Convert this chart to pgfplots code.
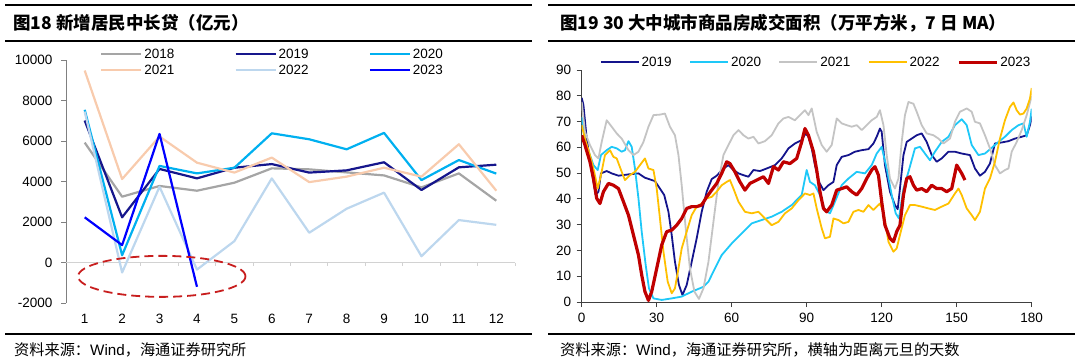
\documentclass[border=0pt]{standalone}
\usepackage{pgfplots}
\pgfplotsset{compat=1.18}
\usepackage{fontspec}
\setmainfont{Liberation Sans}
\newfontfamily\cjk{Noto Sans CJK SC}
\definecolor{a18}{HTML}{A5A5A5}
\definecolor{a19}{HTML}{16168C}
\definecolor{a20}{HTML}{00B0F0}
\definecolor{a21}{HTML}{F8CBAD}
\definecolor{a22}{HTML}{BDD7EE}
\definecolor{a23}{HTML}{0000FF}
\definecolor{b19}{HTML}{14148C}
\definecolor{b20}{HTML}{1EC8F8}
\definecolor{b21}{HTML}{C4C4C4}
\definecolor{b22}{HTML}{FFC000}
\definecolor{b23}{HTML}{C00000}
\definecolor{ell}{HTML}{C81E1E}
\newcommand{\tickfont}{\fontsize{13.5}{15}\selectfont}
\begin{document}
\begin{tikzpicture}[x=1pt,y=1pt]
\path[use as bounding box] (0,0) rectangle (1080,360);
% frame lines
\draw[line width=1.6pt] (5,355) -- (532,355);
\draw[line width=1.2pt] (5,319) -- (532,319);
\draw[line width=1.2pt] (5,26) -- (532,26);
\draw[line width=1.6pt] (548,355) -- (1075,355);
\draw[line width=1.2pt] (548,319) -- (1075,319);
\draw[line width=1.2pt] (548,26) -- (1075,26);
\node[anchor=west, inner sep=0pt] at (13,337) {\cjk\bfseries\fontsize{17.5}{18}\selectfont 图18 新增居民中长贷（亿元）};
\node[anchor=west, inner sep=0pt] at (560,337) {\cjk\bfseries\fontsize{17.5}{18}\selectfont 图19 30 大中城市商品房成交面积（万平方米，7 日 MA）};
\node[anchor=west, inner sep=0pt] at (14,10) {\fontsize{15.2}{16}\selectfont{\cjk 资料来源：}Wind{\cjk ，海通证券研究所}};
\node[anchor=west, inner sep=0pt] at (560,10) {\fontsize{15.2}{16}\selectfont{\cjk 资料来源：}Wind{\cjk ，海通证券研究所，横轴为距离元旦的天数}};

% ---------------- left panel ----------------
\begin{axis}[
  at={(66pt,57pt)}, anchor=south west, scale only axis, width=449pt, height=243pt,
  xmin=0.5, xmax=12.5, ymin=-2000, ymax=10000,
  axis lines=left, axis line style={-}, x axis line style={draw=none},
  y axis line style={draw=gray, line width=1pt},
  xtick={1,...,12}, xtick style={draw=none},
  ytick={-2000,0,2000,4000,6000,8000,10000}, ytick style={draw=gray, line width=1pt},
  scaled y ticks=false,
  tick align=outside, major tick length=5pt,
  ticklabel style={font=\tickfont},
  yticklabel style={xshift=-5pt}, xticklabel style={yshift=-3pt},
  /pgf/number format/assume math mode=true, /pgf/number format/1000 sep={},
  clip=false,
  legend columns=3, legend cell align=left,
  legend style={draw=none, fill=none, font=\tickfont, at={(axis description cs:0.0757,0.991)}, anchor=west,
    inner sep=0pt, row sep=1pt, /tikz/every even column/.append style={column sep=58pt}},
  legend image code/.code={\draw[#1] (0pt,0pt) -- (40pt,0pt);},
  every axis plot/.append style={line width=2.2pt, line join=round},
]
\addplot[gray!35, line width=1.2pt, forget plot] coordinates {(0.5,0)(12.5,0)};
\addplot[gray!35, line width=1pt, ycomb, forget plot] coordinates {(1.5,-150)(2.5,-150)(3.5,-150)(4.5,-150)(5.5,-150)(6.5,-150)(7.5,-150)(8.5,-150)(9.5,-150)(10.5,-150)(11.5,-150)(12.5,-150)};
\addplot[a18] coordinates {(1,5920)(2,3250)(3,3780)(4,3545)(5,3940)(6,4650)(7,4600)(8,4450)(9,4300)(10,3710)(11,4400)(12,3050)};
\addlegendentry{2018}
\addplot[a19] coordinates {(1,7010)(2,2230)(3,4620)(4,4155)(5,4680)(6,4860)(7,4440)(8,4550)(9,4950)(10,3580)(11,4700)(12,4830)};
\addlegendentry{2019}
\addplot[a20] coordinates {(1,7540)(2,360)(3,4770)(4,4400)(5,4680)(6,6380)(7,6085)(8,5590)(9,6400)(10,4070)(11,5060)(12,4390)};
\addlegendentry{2020}
\addplot[a21] coordinates {(1,9480)(2,4120)(3,6220)(4,4930)(5,4440)(6,5180)(7,3970)(8,4240)(9,4680)(10,4240)(11,5840)(12,3545)};
\addlegendentry{2021}
\addplot[a22] coordinates {(1,7450)(2,-495)(3,3740)(4,-350)(5,1055)(6,4155)(7,1470)(8,2655)(9,3450)(10,310)(11,2095)(12,1860)};
\addlegendentry{2022}
\addplot[a23] coordinates {(1,2230)(2,860)(3,6350)(4,-1200)};
\addlegendentry{2023}
\draw[ell, line width=1.8pt, dash pattern=on 9pt off 5pt] (axis cs:3.06,-685) ellipse [x radius=83.7pt, y radius=20.5pt];
\end{axis}

% ---------------- right panel ----------------
\begin{axis}[
  at={(581.7pt,58pt)}, anchor=south west, scale only axis, width=450pt, height=232pt,
  xmin=0, xmax=180, ymin=0, ymax=90,
  axis lines=left, axis line style={-, draw=black!75, line width=1pt},
  xtick={0,30,...,180}, ytick={0,10,...,90},
  tick style={draw=black!75, line width=1pt},
  tick align=outside, major tick length=5pt,
  ticklabel style={font=\tickfont},
  yticklabel style={xshift=-2pt}, xticklabel style={yshift=-3pt},
  /pgf/number format/assume math mode=true, /pgf/number format/1000 sep={},
  legend columns=5, legend cell align=left,
  legend style={draw=none, fill=none, font=\tickfont, at={(axis description cs:0.04,1.033)}, anchor=west,
    inner sep=0pt, /tikz/every even column/.append style={column sep=15.5pt}},
  legend image code/.code={\draw[#1] (0pt,0pt) -- (38pt,0pt);},
  every axis plot/.append style={line width=1.8pt, line join=round},
]
\addplot[b19] coordinates {(0,79.2)(0.7,76.4)(2,63.4)(4,50.5)(5.6,41.5)(6.7,42.8)(7.7,49.9)(10,50.8)(12,49.9)(14.7,49)(18.7,49.5)(22.7,49.9)(25.3,48.2)(29.3,46.9)(31.3,44)(33,41.5)(34.7,35)(36,26)(37.3,15.6)(38.9,6.6)(40.3,2.7)(42,6.6)(44,15.6)(46,24.7)(48,35)(50,42.8)(52,47.7)(54,49)(56.7,51.8)(58.7,53.1)(60.7,51.2)(62.7,49.9)(64.7,49.2)(66.7,48.6)(68.7,51.2)(71.3,50.8)(74,51.8)(77.3,53.1)(80,55.7)(82.7,59.6)(85.3,61.5)(88,62.8)(89.6,65.4)(90.7,64.1)(92,59.6)(93.3,53.1)(94.9,46.6)(96.7,43.4)(98.7,45.3)(100.7,46.6)(102,53.1)(104,56.3)(106.7,57)(109.3,58.3)(112,58.9)(114.7,59.3)(116.7,61.5)(118,64.1)(119.3,67.3)(120,66)(121.3,53.1)(123.3,42.8)(125.3,37.6)(126.4,36)(127.3,44)(128.7,57)(130,62.1)(132,63.4)(134,64.7)(136,65.4)(138,62.1)(140,57)(142,54.4)(144,55.7)(146.7,58.3)(149.3,58.3)(152,57.6)(155.3,57)(157.3,51.8)(159.3,49)(161.3,50.5)(163.3,53.7)(165.3,61.5)(168,61.9)(170.7,62.4)(173.3,63.4)(176,64.1)(178,64.7)(179.3,68.6)(180,72)};
\addlegendentry{2019}
\addplot[b20] coordinates {(0,71.8)(1.3,62.1)(3.3,57)(4.7,53.1)(6.4,51.2)(7.7,57)(10,58.9)(12,60.2)(14,59.6)(16,58.3)(17.3,58.9)(18.7,62.4)(20,60.2)(21.3,51.8)(22.7,40.2)(24,27.3)(25.6,14.3)(26.9,5.3)(28.7,1.4)(32,0.8)(36,1.4)(40,2.1)(44,4)(48.7,5.9)(50.7,7.9)(53.3,13)(56,18.2)(60,22.7)(64,26.6)(68,30.5)(72,31.8)(76,33.1)(80,35)(84,37.6)(88,41.5)(90,51.2)(91.3,46.6)(93.3,45.3)(95.3,41.5)(97.3,35.7)(99.3,34.4)(101.3,38.9)(104,45.3)(106.7,47.9)(110,50.5)(113.3,49.9)(116,53.1)(118,57.6)(120,60.2)(122,51.8)(124,41.5)(125.6,34.4)(126.9,32.4)(128.7,44)(130.7,50.5)(133.3,59.6)(135.3,60.2)(137.3,57.6)(139.3,55)(141.3,58.3)(144,62.1)(146.7,64.1)(149.3,68.6)(152,70.9)(154,68.6)(156,60.9)(158.7,57)(161.3,57.6)(164,59.8)(166.7,62.1)(169.3,64.1)(172,66.7)(174.7,68.6)(176.7,69.3)(178,64.1)(179.3,69.9)(180,75)};
\addlegendentry{2020}
\addplot[b21] coordinates {(0,77.6)(1.3,66)(3.3,60.9)(5.3,57)(6.7,55.7)(8,62.1)(10,70.5)(12,68)(14,65.4)(16,63.4)(18.7,58.9)(20.7,57)(22.7,58.3)(24.7,62.1)(26.7,68)(28.7,72.5)(31.3,72.7)(33.3,73.1)(35.3,68)(37.3,64.7)(38.7,57)(40,45.3)(41.6,28.6)(43.3,13)(45.1,4)(46.9,1.2)(48.7,5.3)(50.7,15.6)(52.7,31.1)(54.7,46.6)(56.7,57)(58.7,60.9)(60.7,64.7)(62.7,66.7)(64.7,64.7)(66.7,63.4)(68.7,64.1)(70.7,61.5)(73.3,62.4)(76,64.7)(78.7,69.3)(80.7,71.2)(82.7,71.8)(85.3,70.5)(87.3,72.5)(89.3,74.4)(90.7,72.5)(92,75.1)(94,66)(96,60.9)(98,58.3)(100,60.9)(102,71.2)(104,69.3)(106,68.6)(108,68)(110,68.6)(112,66.7)(114,68.6)(116,70.5)(118,71.8)(119.3,74.4)(120.7,68.6)(122,57)(123.3,47.9)(125.3,44)(126.7,47.9)(128,62.1)(129.3,72.5)(130.7,77.6)(132.7,76.9)(134,73.8)(136,68.6)(138,65.4)(140.7,64.7)(142.7,63.4)(144.7,61.5)(147.3,63.4)(149.3,69.9)(151.3,73.8)(154,75.1)(156,73.8)(157.3,69.9)(159.3,69.3)(161.3,64.7)(163.3,59.6)(165.3,53.1)(167.3,49.9)(169.3,51.2)(170.7,51.8)(172,58.3)(174,62.1)(176,66.7)(178,72.5)(180,80)};
\addlegendentry{2021}
\addplot[b22] coordinates {(0,68.6)(1.3,63.4)(3.3,57)(5,50.5)(6.4,44)(7.7,49.2)(9.3,57)(11.3,58.9)(12.7,56.3)(14,55.7)(16,50.5)(17.3,47.3)(19.3,49.2)(21.3,50.5)(23.3,53.1)(25.3,55.7)(26.7,51.8)(28.7,51.2)(30,44)(31.3,32.4)(32.7,19.5)(34.4,7.9)(36,3.4)(37.3,5.3)(38.7,13)(40,20.8)(42,27.3)(44,33.7)(46,37)(48,38.2)(50,40.2)(52,40.8)(54,42.8)(56,45.3)(58,46.6)(59.3,47.3)(60.7,44)(62.7,38.9)(65.3,35)(68,34.4)(70.7,35)(73.3,32.4)(76,29.8)(78.7,31.1)(81.3,34.4)(84,36.3)(86.7,39.5)(89.3,42.1)(91.3,41.5)(92.7,42.1)(94,36.3)(96,28.6)(97.3,24.7)(99.3,25.3)(100.7,32.4)(102.7,31.8)(104.7,30.5)(106.7,31.1)(108.7,35)(110.7,35.7)(112.7,35)(114.7,37.6)(116.7,35.7)(119.3,38.2)(120.7,35)(122.7,23.4)(124.7,19.5)(126,20.8)(127.3,26)(129.3,33.7)(131.3,37.6)(133.3,37.6)(136,37)(138.7,36.3)(141.3,35.7)(144,37)(146.7,38.2)(149.3,42.1)(150.7,44)(152,41.5)(154,36.3)(156,33.7)(157.3,31.8)(159.3,35)(161.3,44)(163.3,47.9)(165.3,54.4)(167.3,63.4)(169.3,70.5)(171.3,75.7)(172.7,77.4)(174,74.4)(175.3,72.7)(176.7,73.1)(178,75.1)(179.3,78.9)(180,83)};
\addlegendentry{2022}
\addplot[b23, line width=3.2pt] coordinates {(0,64.7)(1.3,60.9)(3.3,54.4)(4.7,47.9)(6,40.2)(7.3,38.2)(8.7,42.8)(10.7,46)(12.7,45.3)(14.7,44)(16.7,38.9)(18.7,33.7)(20.7,26)(22.7,18.2)(24,10.5)(25.3,4)(26.7,0.6)(28,4)(30,13)(32,22.1)(34,27.3)(36,27.9)(38,29.8)(40,32.4)(42,36.3)(44,37)(46,37)(48,37.6)(50,40.8)(52,43.4)(54,46)(56,49.9)(58,54.4)(59.3,53.7)(61.3,50.5)(63.3,46.6)(65.3,43.4)(67.3,46)(70,47.3)(72.7,48.6)(74.7,46)(76.7,52.5)(78.7,51.2)(80.7,54.4)(83.3,53.7)(86,55.7)(88,62.1)(89.3,67.3)(90.7,64.7)(92.7,58.3)(94,51.2)(95.3,42.8)(96.7,36.3)(98,35)(100,37.6)(102,43.4)(104,44)(106,44.7)(108,42.8)(110,41.5)(112,44)(114,47.9)(116,51.2)(117.3,52.5)(118.7,49.2)(120,38.9)(121.3,29.8)(123.3,24.7)(124.7,23.4)(126,27.3)(127.3,29.8)(128.7,41.5)(130,47.9)(131.3,48.6)(132.7,45.3)(134,43.4)(136,44)(138,42.8)(140,45.3)(142,44)(144,44)(146,42.8)(148,44)(150,53.1)(152,49.9)(153.3,47.3)};
\addlegendentry{2023}
\end{axis}
\end{tikzpicture}
\end{document}
